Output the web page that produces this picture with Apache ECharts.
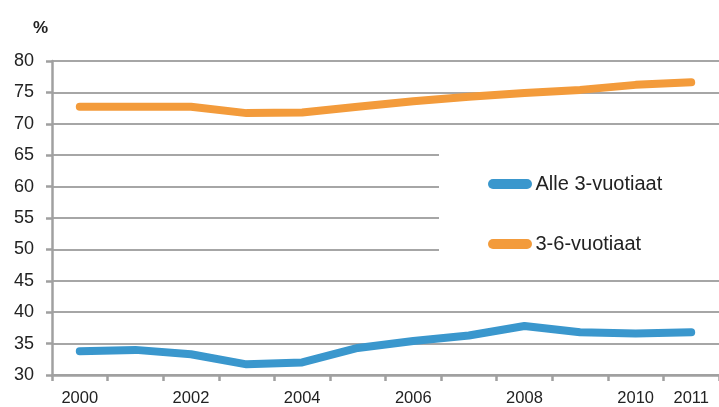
<!DOCTYPE html>
<html>
<head>
<meta charset="utf-8">
<script src="https://cdn.jsdelivr.net/npm/echarts@6/dist/echarts.min.js"></script>
<style>
html,body{margin:0;padding:0;background:#fff;}
#chart{width:719px;height:407px;}
</style>
</head>
<body>
<div id="chart"></div>
<script>
const years = ['2000','2001','2002','2003','2004','2005','2006','2007','2008','2009','2010','2011'];
const alle3 = [33.8, 34.0, 33.3, 31.7, 32.0, 34.3, 35.4, 36.3, 37.8, 36.8, 36.6, 36.8];
const vuotiaat36 = [72.7, 72.7, 72.7, 71.7, 71.8, 72.7, 73.6, 74.3, 74.9, 75.4, 76.2, 76.6];
const seriesNames = ['Alle 3-vuotiaat', '3-6-vuotiaat'];
const yTicks = {min: 30, max: 80, interval: 5};

const chart = echarts.init(document.getElementById('chart'));
const capsule = 'path://M5,0 H39 A5,5 0 0 1 39,10 H5 A5,5 0 0 1 5,0 Z';
chart.setOption({
  animation: false,
  backgroundColor: '#ffffff',
  textStyle: {fontFamily: 'Liberation Sans, Arial, sans-serif'},
  title: {
    text: '%', left: 28, top: 15,
    textStyle: {fontSize: 17, fontWeight: 'bold', color: '#222', fontFamily: 'Liberation Sans, Arial, sans-serif'}
  },
  grid: {left: 52, top: 61, width: 669, height: 314, containLabel: false},
  legend: {
    orient: 'vertical',
    left: 439, top: 140,
    padding: [34, 60, 16, 49],
    itemGap: 40,
    itemWidth: 45, itemHeight: 10,
    backgroundColor: '#ffffff',
    textStyle: {fontSize: 20, color: '#222', lineHeight: 20, padding: [0,0,0,-2]},
    data: [
      {name: seriesNames[0], icon: capsule},
      {name: seriesNames[1], icon: capsule}
    ]
  },
  xAxis: {
    type: 'category',
    data: years,
    boundaryGap: true,
    axisLine: {lineStyle: {color: '#a0a0a0', width: 2.5}},
    axisTick: {show: true, length: 6, interval: 0, lineStyle: {color: '#a0a0a0', width: 2.5}},
    axisLabel: {
      interval: function (i) { return i % 2 === 0 || i === 11; },
      fontSize: 16.5, color: '#222', margin: 15
    },
    splitLine: {show: false}
  },
  yAxis: {
    type: 'value',
    min: yTicks.min, max: yTicks.max, interval: yTicks.interval,
    axisLine: {show: true, lineStyle: {color: '#a0a0a0', width: 2.5}},
    axisTick: {show: true, length: 6, lineStyle: {color: '#a0a0a0', width: 2.5}},
    axisLabel: {fontSize: 18, color: '#222', margin: 18},
    splitLine: {show: true, lineStyle: {color: '#a6a6a6', width: 2}}
  },
  series: [
    {
      name: seriesNames[0], type: 'line', data: alle3,
      symbol: 'none', color: '#3a97cd',
      lineStyle: {width: 8, cap: 'round', join: 'round', color: '#3a97cd'}
    },
    {
      name: seriesNames[1], type: 'line', data: vuotiaat36,
      symbol: 'none', color: '#f39b3b',
      lineStyle: {width: 8, cap: 'round', join: 'round', color: '#f39b3b'}
    }
  ]
});
</script>
</body>
</html>
